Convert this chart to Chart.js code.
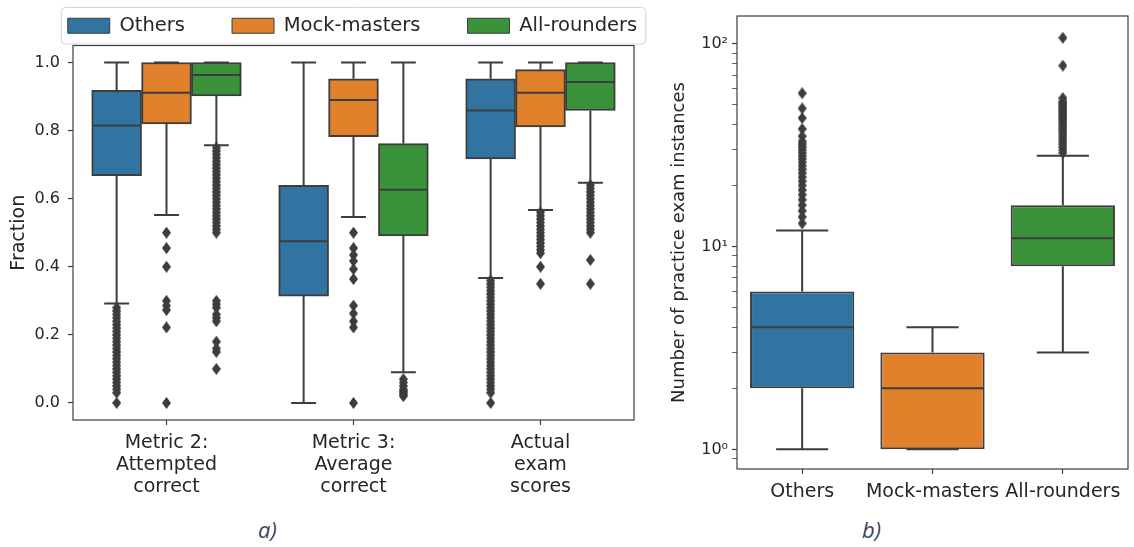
<!DOCTYPE html>
<html>
<head>
<meta charset="utf-8">
<script src="https://cdn.jsdelivr.net/npm/chart.js@4"></script>
<style>
  html, body { margin: 0; padding: 0; background: #fff; overflow: hidden; width: 1134px; height: 547px; }
  #wrap { position: relative; width: 1134px; height: 547px; }
  canvas { position: absolute; top: 0; }
  #fracChart { left: 0; }
  #countChart { left: 660px; }
  .cap { position: absolute; top: 514px; font: italic 22px 'Open Sans', sans-serif; color: #34465a; }
</style>
</head>
<body>
<div id="wrap">
  <canvas id="fracChart" width="705" height="510"></canvas>
  <canvas id="countChart" width="474" height="510"></canvas>
  <div class="cap" style="left:258px">a)</div>
  <div class="cap" style="left:862px">b)</div>
</div>
<script>
const groups = ['Others', 'Mock-masters', 'All-rounders'];
const colors = ['#3274a1', '#e1812c', '#3a923a'];
const lineColor = '#3d3d3d';

// panel a
const metrics = [['Metric 2:', 'Attempted', 'correct'], ['Metric 3:', 'Average', 'correct'], ['Actual', 'exam', 'scores']];
const fracTicks = [0, 0.2, 0.4, 0.6, 0.8, 1.0];

// per metric: [low whisker, q1, median, q3, high whisker]
const othersFrac = [[0.292, 0.668, 0.815, 0.918, 1.0], [0.0, 0.314, 0.475, 0.639, 1.0], [0.367, 0.717, 0.859, 0.952, 1.0]];
const mockFrac = [[0.552, 0.82, 0.911, 1.0, 1.0], [0.546, 0.782, 0.89, 0.952, 1.0], [0.567, 0.811, 0.911, 0.979, 1.0]];
const allFrac = [[0.757, 0.902, 0.963, 1.0, 1.0], [0.09, 0.491, 0.626, 0.762, 1.0], [0.647, 0.859, 0.943, 1.0, 1.0]];

const othersFracOut = [
  [0.28, 0.27, 0.26, 0.25, 0.24, 0.23, 0.22, 0.21, 0.2, 0.19, 0.18, 0.17, 0.16, 0.15, 0.14, 0.13, 0.12, 0.11, 0.1, 0.09, 0.08, 0.07, 0.06, 0.05, 0.04, 0.03, 0],
  [],
  [0.36, 0.35, 0.34, 0.33, 0.32, 0.31, 0.3, 0.29, 0.28, 0.27, 0.26, 0.25, 0.24, 0.23, 0.22, 0.21, 0.2, 0.19, 0.18, 0.17, 0.16, 0.15, 0.14, 0.13, 0.12, 0.11, 0.1, 0.09, 0.08, 0.07, 0.06, 0.05, 0.04, 0.03, 0]
];
const mockFracOut = [
  [0.5, 0.455, 0.4, 0.3, 0.286, 0.273, 0.222, 0],
  [0.5, 0.455, 0.435, 0.417, 0.393, 0.364, 0.286, 0.263, 0.24, 0.222, 0],
  [0.56, 0.55, 0.54, 0.53, 0.52, 0.51, 0.5, 0.49, 0.48, 0.47, 0.46, 0.45, 0.44, 0.4, 0.35]
];
const allFracOut = [
  [0.75, 0.74, 0.73, 0.72, 0.71, 0.7, 0.69, 0.68, 0.67, 0.66, 0.65, 0.64, 0.63, 0.62, 0.61, 0.6, 0.59, 0.58, 0.57, 0.56, 0.55, 0.54, 0.53, 0.52, 0.51, 0.5,
   0.3, 0.29, 0.28, 0.26, 0.25, 0.24, 0.18, 0.16, 0.15, 0.1],
  [0.07, 0.06, 0.05, 0.04, 0.035, 0.03, 0.025, 0.02],
  [0.64, 0.63, 0.62, 0.61, 0.6, 0.59, 0.58, 0.57, 0.56, 0.55, 0.54, 0.53, 0.52, 0.51, 0.5, 0.42, 0.35]
];

// panel b
const othersCount = [1, 2, 4, 6, 12];
const mockCount = [1, 1, 2, 3, 4];
const allCount = [3, 8, 11, 16, 28];
const othersCountOut = [13, 14, 15, 16, 17, 18, 19, 20, 21, 22, 23, 24, 25, 26, 27, 28, 29, 30, 31, 32, 33, 35, 38, 43, 48, 57];
const mockCountOut = [];
const allCountOut = [29, 30, 31, 32, 33, 34, 35, 36, 37, 38, 39, 40, 41, 42, 43, 44, 45, 46, 47, 48, 49, 50, 51, 52, 54, 78, 107];
const countMajor = [1, 10, 100];
const countMajorLabels = ['10⁰', '10¹', '10²'];
const countMinor = [0.9, 2, 3, 4, 5, 6, 7, 8, 9, 20, 30, 40, 50, 60, 70, 80, 90];

const catPositions = [0, 1, 2];

Chart.defaults.font.family = 'DejaVu Sans';
Chart.defaults.color = '#262626';
Chart.defaults.animation = false;

// thin diamond like matplotlib's 'd'
function makeDiamond() {
  const c = document.createElement('canvas');
  c.width = 9; c.height = 12;
  const g = c.getContext('2d');
  g.fillStyle = lineColor;
  g.beginPath();
  g.moveTo(4.5, 0); g.lineTo(9, 6); g.lineTo(4.5, 12); g.lineTo(0, 6);
  g.closePath();
  g.fill();
  return c;
}
const diamond = makeDiamond();

const boxPlugin = {
  id: 'boxplot',
  beforeDatasetsDraw(chart) {
    const ctx = chart.ctx, y = chart.scales.y;
    ctx.save();
    ctx.strokeStyle = lineColor;
    ctx.lineWidth = 2;
    chart.data.datasets.forEach((ds, di) => {
      if (!ds.stats) return;
      chart.getDatasetMeta(di).data.forEach((bar, i) => {
        const [lo, q1, , q3, hi] = ds.stats[i];
        const {x, width} = bar.getProps(['x', 'width'], true);
        const cap = width / 4;
        ctx.beginPath();
        ctx.moveTo(x, y.getPixelForValue(q3)); ctx.lineTo(x, y.getPixelForValue(hi));
        ctx.moveTo(x, y.getPixelForValue(q1)); ctx.lineTo(x, y.getPixelForValue(lo));
        ctx.moveTo(x - cap, y.getPixelForValue(hi)); ctx.lineTo(x + cap, y.getPixelForValue(hi));
        ctx.moveTo(x - cap, y.getPixelForValue(lo)); ctx.lineTo(x + cap, y.getPixelForValue(lo));
        ctx.stroke();
      });
    });
    ctx.restore();
  },
  afterDatasetDraw(chart, args) {
    const ds = chart.data.datasets[args.index];
    if (!ds.stats) return;
    const ctx = chart.ctx, y = chart.scales.y;
    ctx.save();
    ctx.strokeStyle = lineColor;
    ctx.lineWidth = 2;
    args.meta.data.forEach((bar, i) => {
      const {x, width} = bar.getProps(['x', 'width'], true);
      const ym = y.getPixelForValue(ds.stats[i][2]);
      ctx.beginPath();
      ctx.moveTo(x - width / 2 + 1, ym); ctx.lineTo(x + width / 2 - 1, ym);
      ctx.stroke();
    });
    ctx.restore();
  },
  afterDraw(chart) {
    const ctx = chart.ctx, a = chart.chartArea;
    ctx.save();
    ctx.strokeStyle = lineColor;
    ctx.lineWidth = 1.2;
    ctx.strokeRect(a.left, a.top, a.right - a.left, a.bottom - a.top);
    if (chart.options.plugins.legend.display) {
      const hb = chart.legend.legendHitBoxes;
      const last = hb[hb.length - 1];
      const l = hb[0].left - 7, r = last.left + last.width + 8;
      const t = hb[0].top - 9, b = hb[0].top + hb[0].height + 8;
      ctx.strokeStyle = '#d4d4d4';
      ctx.lineWidth = 1;
      ctx.beginPath();
      ctx.roundRect(l + 0.5, t + 0.5, r - l, b - t, 4);
      ctx.stroke();
    }
    ctx.restore();
  }
};

// shared x axis: linear -0.5..2.5 with one tick per category
function catAxis(labels, height, font) {
  return {
    type: 'linear',
    offset: false,
    min: -0.5,
    max: 2.5,
    afterFit: s => { s.height = height; },
    afterBuildTicks: s => { s.ticks = catPositions.map(v => ({value: v})); },
    border: {display: false},
    grid: {offset: false, drawOnChartArea: false, tickLength: 5, tickColor: lineColor, tickWidth: 1.2},
    ticks: {autoSkip: false, maxRotation: 0, padding: 7, font: font, callback: v => labels[catPositions.indexOf(v)]}
  };
}

// panel a datasets
const fracStats = [othersFrac, mockFrac, allFrac];
const fracOut = [othersFracOut, mockFracOut, allFracOut];
const hueOffset = h => (h - 1) * 0.8 / 3;

const fracDatasets = groups.map((g, h) => ({
  type: 'bar',
  label: g,
  stats: fracStats[h],
  data: fracStats[h].map((s, i) => ({x: catPositions[i] + hueOffset(h), y: [s[1], s[3]]})),
  grouped: false,
  backgroundColor: colors[h],
  borderColor: lineColor,
  borderWidth: 2,
  borderSkipped: false,
  categoryPercentage: 1.0,
  barPercentage: 1.0,
  order: 2
}));
groups.forEach((g, h) => {
  fracDatasets.push({
    type: 'scatter',
    label: g + ' outliers',
    data: fracOut[h].flatMap((vals, i) => vals.map(v => ({x: catPositions[i] + hueOffset(h), y: v}))),
    pointStyle: diamond,
    pointRadius: 5,
    order: 1
  });
});

const legendPad = 47;

new Chart(document.getElementById('fracChart'), {
  type: 'scatter',
  data: {datasets: fracDatasets},
  options: {
    responsive: false,
    layout: {padding: {top: 16 - legendPad, left: 0, right: 0, bottom: 0}},
    plugins: {
      tooltip: {enabled: false},
      legend: {
        display: true,
        position: 'top',
        labels: {
          generateLabels: chart => Chart.defaults.plugins.legend.labels.generateLabels(chart)
            .filter(item => !!chart.data.datasets[item.datasetIndex].stats)
            .map(item => Object.assign(item, {lineWidth: 1})),
          boxWidth: 42,
          boxHeight: 15,
          padding: legendPad,
          color: '#262626',
          font: {size: 19.5}
        }
      }
    },
    scales: {
      x: catAxis(metrics, 90, {size: 19, lineHeight: 1.16}),
      y: {
        type: 'linear',
        min: -0.05,
        max: 1.05,
        afterFit: s => { s.width = 73; },
        afterBuildTicks: s => { s.ticks = fracTicks.map(v => ({value: v})); },
        border: {display: false},
        grid: {drawOnChartArea: false, tickLength: 5, tickColor: lineColor, tickWidth: 1.2},
        ticks: {autoSkip: false, padding: 8, font: {size: 16}, callback: v => Number(v).toFixed(1)},
        title: {display: true, text: 'Fraction', font: {size: 19}, padding: {top: 8, bottom: 0}}
      },
      yPad: {
        type: 'linear',
        position: 'right',
        afterFit: s => { s.width = 71; },
        border: {display: false},
        grid: {display: false},
        ticks: {display: false}
      }
    }
  },
  plugins: [boxPlugin]
});

// panel b
const countStats = [othersCount, mockCount, allCount];
const countOut = [othersCountOut, mockCountOut, allCountOut];

new Chart(document.getElementById('countChart'), {
  type: 'scatter',
  data: {
    datasets: [{
      type: 'bar',
      label: 'Practice exam instances',
      stats: countStats,
      data: countStats.map((s, i) => ({x: catPositions[i], y: [s[1], s[3]]})),
      grouped: false,
      backgroundColor: colors,
      borderColor: lineColor,
      borderWidth: 2,
      borderSkipped: false,
      categoryPercentage: 0.8,
      barPercentage: 1.0,
      order: 2
    }, {
      type: 'scatter',
      label: 'Outliers',
      data: countOut.flatMap((vals, i) => vals.map(v => ({x: catPositions[i], y: v}))),
      pointStyle: diamond,
      pointRadius: 5,
      order: 1
    }]
  },
  options: {
    responsive: false,
    layout: {padding: {top: 16, left: 0, right: 0, bottom: 0}},
    plugins: {tooltip: {enabled: false}, legend: {display: false}},
    scales: {
      x: catAxis(groups, 41, {size: 19}),
      y: {
        type: 'logarithmic',
        min: 0.8,
        max: 137,
        afterFit: s => { s.width = 77; },
        afterBuildTicks: s => {
          s.ticks = countMinor.concat(countMajor).sort((p, q) => p - q).map(v => ({value: v, major: countMajor.includes(v)}));
        },
        border: {display: false},
        grid: {
          drawOnChartArea: false,
          tickLength: 5,
          tickColor: lineColor,
          tickWidth: ctx => (ctx.tick && ctx.tick.major ? 1.2 : 0.8)
        },
        ticks: {
          autoSkip: false,
          padding: 4,
          font: {size: 16},
          callback: v => {
            const k = countMajor.indexOf(v);
            return k >= 0 ? countMajorLabels[k] : '';
          }
        },
        title: {display: true, text: 'Number of practice exam instances', font: {size: 18}, padding: {top: 9, bottom: 0}}
      }
    }
  },
  plugins: [boxPlugin]
});
</script>
</body>
</html>
